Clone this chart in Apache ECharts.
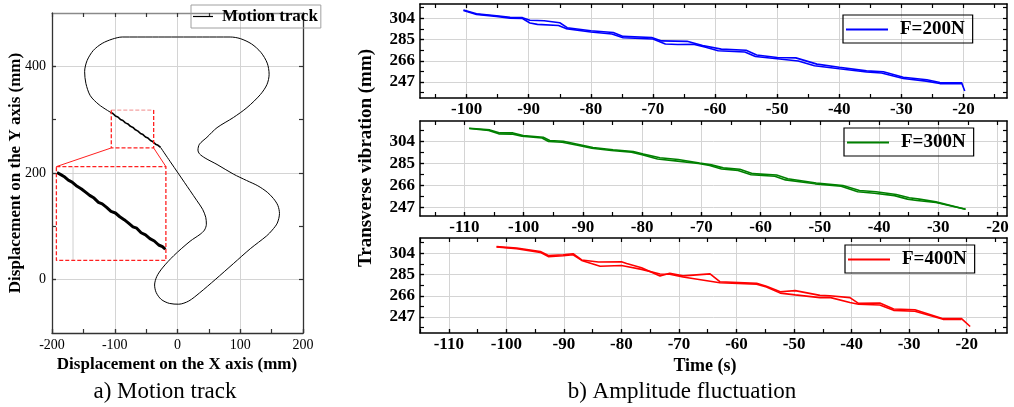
<!DOCTYPE html>
<html><head><meta charset="utf-8">
<script src="https://cdn.jsdelivr.net/npm/echarts@6/dist/echarts.min.js"></script>
<style>html,body{margin:0;padding:0;background:#fff}#c{width:1014px;height:407px}</style>
</head><body><div id="c"></div>
<script>
// ================= DATA =================
// (a) motion track, mm
const trackName = 'Motion track';
const trackMain = [[-27,248],[-12,222],[2,198],[20,167],[31,148],[40,132],[45,117],[46,104],[43,93],[36,85],[20,72],[-6,45],[-24,22],[-33,6],[-36.5,-10],[-34,-24],[-26,-37],[-13,-44.5],[2,-46],[18,-40],[35,-25],[60,0],[89,30],[116,58],[142,82],[151,93],[159,106],[162.5,124],[160,139],[153,152],[143,164],[128,176],[110,186],[89,198],[63,216],[44,228],[35,236],[32.6,243],[35,254],[47,267],[63,285],[89,304],[110.7,322.6],[132,347],[142.6,366],[146,385],[143,406],[133,426],[118,442],[100,452],[84,455],[40,455],[0,455],[-40,455],[-88,455],[-104,451],[-120,443],[-134,430],[-144,411],[-148,390],[-146,368],[-139,345],[-125,328],[-107,314]];
const trackJag = [[-107,314],[-103,311.5],[-99,307],[-95,305],[-91,300.5],[-87,298.5],[-83,294],[-79,292],[-75,287.5],[-71,285.5],[-67,281],[-63,278.5],[-59,274],[-55,272],[-51,267.5],[-47,265.5],[-43,261],[-39,258.5],[-35,254],[-31,252],[-27,248]];
const insetTrack = [[-192,201],[-186,197],[-181,193.5],[-174,186.5],[-168,183],[-160,175],[-153,170],[-147,164.5],[-140,158],[-133,153],[-126,145],[-120,142],[-113,135.5],[-106,128],[-99,125],[-92,118],[-85,112.5],[-78,106],[-71,99],[-65,96.5],[-58,88],[-51,84],[-44,77],[-37,72.5],[-30,65],[-24,62],[-19.4,57]];
const sourceBoxTop = [[-105.5,318],[-38,318]];
const sourceBoxRest = [[-38,318],[-38,247],[-105.5,247],[-105.5,318]];
const insetBox = [[-193,212],[-18.5,212],[-18.5,36],[-193,36],[-193,212]];
const connectorL = [[-105.5,247],[-193,212]];
const connectorR = [[-38,247],[-18.5,212]];
const insetGrid = [[-166.5,36],[-166.5,212]];
const trackXLabels = [-200,-100,0,100,200];
const trackXTicks = [-200,-150,-100,-50,0,50,100,150,200];
const trackYLabels = [0,200,400];
const trackYTicks = [0,100,200,300,400];

// (b) amplitude fluctuation: two passes per load
const loadNames = ['F=200N','F=300N','F=400N'];
const blueA = [[-100.5,311.4],[-98.4,308],[-95.2,306.3],[-93,304.8],[-91,304.6],[-89.8,302.2],[-87.5,301.8],[-85,300],[-83.8,295.6],[-80,292.8],[-76.4,291.3],[-74.8,287.8],[-70.2,286.8],[-68.6,283.8],[-64.5,283.4],[-62,279.6],[-59,276.4],[-55,275.4],[-53.3,271.2],[-50,269],[-47,268.6],[-43.6,263],[-40,260.2],[-35.6,257],[-32.9,256.2],[-29.7,251.2],[-25.9,249],[-23.8,246.6],[-20.3,246.2],[-19.8,239]];
const blueB = [[-20.3,245.6],[-23.8,245.6],[-26,247.8],[-29.7,250.2],[-33.2,255],[-35.6,256],[-40,258.8],[-44,261.5],[-46.6,265.8],[-50,267.8],[-53.5,269.8],[-55.2,273.8],[-59.5,275],[-61.5,278.2],[-63.5,280.8],[-66,280.6],[-68,281],[-70,285.5],[-74.8,286.6],[-76.6,290],[-80,291.8],[-84,294.8],[-85.2,297.6],[-88.6,298.6],[-89.8,299.8],[-91,303.8],[-93,304.2],[-95.2,305.7],[-98.4,307.5],[-100.5,311]];
const greenA = [[-109.2,315.6],[-105.7,314.2],[-104,311.6],[-101.8,311.6],[-100.1,309.4],[-96.7,307.8],[-95.6,305],[-93.3,304.4],[-90.5,301.4],[-88.3,299],[-84.9,297],[-81.5,295.6],[-79.8,293.3],[-77,290.2],[-73.9,288.6],[-70.3,285.6],[-68.3,284],[-66.3,281.4],[-63.5,280.2],[-61.3,276.4],[-57.3,275.2],[-55.4,272],[-50.6,268.3],[-46.1,266.2],[-43.3,261.8],[-40.5,260.8],[-37.1,258.4],[-34.9,255.6],[-33.2,254.4],[-30.4,252],[-25.4,245.6]];
const greenB = [[-25.4,245.6],[-30.4,251.4],[-33.6,253.2],[-35.2,254.4],[-37.4,257.4],[-40.8,259.4],[-43.6,260.8],[-46.4,265.6],[-50.8,267.6],[-55.8,271],[-57.6,274.2],[-61.6,275.4],[-63.8,279.2],[-66.6,280.4],[-68.6,283.4],[-70.5,285.2],[-74,287.2],[-77.4,289],[-80,292.8],[-81.8,295],[-85.2,296.4],[-88.5,298.4],[-90.7,300.8],[-93.5,303.6],[-95.8,304.2],[-96.9,307.2],[-100.3,308.8],[-102,310.6],[-104.2,310.8],[-105.9,313.8],[-109.2,315.4]];
const redA = [[-101.7,309.9],[-98.2,308.6],[-94.1,305.6],[-92.7,302],[-90.1,302.6],[-88.4,303.6],[-86.9,298],[-84,296.2],[-80,296.4],[-79.1,294.8],[-76.5,291],[-73.3,283.6],[-71.6,286.2],[-69.3,283.8],[-64.6,285.6],[-62.9,278.6],[-56.5,277.2],[-54.8,274.6],[-52.4,269.6],[-49.8,270.6],[-45.5,266.4],[-43.8,266],[-40.3,264.4],[-38.8,259.2],[-35.1,259.6],[-32.7,254.2],[-29,253.6],[-24.1,245.6],[-20.9,245.6],[-19.4,238.6]];
const redB = [[-20.9,245],[-24.1,245],[-29,252.2],[-32.7,253],[-35.1,257.8],[-38.8,258.4],[-40.3,260],[-43.8,264.6],[-45.5,264.4],[-49.8,266.8],[-52.4,268.4],[-54.8,273.8],[-56.5,276.4],[-62.9,277.6],[-69.3,282.8],[-71.6,285.2],[-73.3,285.4],[-76.5,289.6],[-79.1,292.2],[-80,293],[-83.7,292.4],[-86.9,297.6],[-88.4,302.6],[-90.1,301.8],[-92.7,301],[-94.1,304.8],[-98.2,308],[-101.7,309.6]];
const ampYLabels = [247,266,285,304];
const ampYTicks = [237.5,247,256.5,266,275.5,285,294.5,304,313.5];
const ampXLabelsTop = [-100,-90,-80,-70,-60,-50,-40,-30,-20];
const ampXLabelsLow = [-110,-100,-90,-80,-70,-60,-50,-40,-30,-20];
const ampXTicks = [-115,-110,-105,-100,-95,-90,-85,-80,-75,-70,-65,-60,-55,-50,-45,-40,-35,-30,-25,-20,-15];

// ================= CHART =================
const SERIF = 'Liberation Serif';
const xAxes = [], yAxes = [];
function addAxes(gi, dim, range, labVals, tickVals, st) {
  const arr = dim === 'x' ? xAxes : yAxes;
  const p1 = dim === 'x' ? 'bottom' : 'left', p2 = dim === 'x' ? 'top' : 'right';
  const idx = arr.length;
  const base = {gridIndex: gi, type: 'value', min: range[0], max: range[1]};
  const tick = (vals) => ({show: true, inside: true, length: st.tickLen, customValues: vals, lineStyle: {color: st.tick, width: 1.2}});
  arr.push(Object.assign({}, base, {
    position: p1,
    axisLine: {show: true, onZero: false, lineStyle: {color: st.frame, width: st.frameW}},
    axisTick: tick(labVals),
    axisLabel: {show: true, customValues: labVals, margin: dim === 'x' ? st.xMargin : st.yMargin,
      fontFamily: SERIF, fontSize: st.labelSize, fontWeight: st.labelWeight, color: '#000'},
    splitLine: {show: true, lineStyle: {color: '#d4d4d4', width: 1}}
  }));
  arr.push(Object.assign({}, base, {
    position: p1, axisLine: {show: false, onZero: false}, axisTick: tick(tickVals),
    axisLabel: {show: false}, splitLine: {show: false}
  }));
  arr.push(Object.assign({}, base, {
    position: p2,
    axisLine: {show: true, onZero: false, lineStyle: {color: dim === 'x' && st.topColor ? st.topColor : st.frame, width: st.frameW}},
    axisTick: tick(tickVals), axisLabel: {show: false}, splitLine: {show: false}
  }));
  return idx;
}

const leftSt = {tickLen: 4, tick: '#333', frame: '#333', topColor: '#8a8a8a', frameW: 1.3, xMargin: 5, yMargin: 6, labelSize: 14, labelWeight: 'normal'};
const rightSt = {tickLen: 4, tick: '#000', frame: '#000', frameW: 1.5, xMargin: 3, yMargin: 5, labelSize: 17, labelWeight: 'bold'};

const grids = [
  {left: 52, top: 13, width: 251, height: 320},
  {left: 420, top: 4, width: 587, height: 94},
  {left: 420, top: 121, width: 587, height: 95},
  {left: 420, top: 238, width: 587, height: 95}
];
const ax = [];
ax.push([addAxes(0, 'x', [-200, 200], trackXLabels, trackXTicks, leftSt), addAxes(0, 'y', [-100, 500], trackYLabels, trackYTicks, leftSt)]);
const xr = [[-107.5, -13], [-117.5, -18.4], [-115, -13]];
const yr = [[232.7, 316.8], [239.8, 321.9], [232.8, 317.6]];
const xl = [ampXLabelsTop, ampXLabelsLow, ampXLabelsLow];
for (let i = 0; i < 3; i++) {
  ax.push([addAxes(i + 1, 'x', xr[i], xl[i], ampXTicks, rightSt), addAxes(i + 1, 'y', yr[i], ampYLabels, ampYTicks, rightSt)]);
}

function line(gi, name, data, color, width, extra) {
  return Object.assign({type: 'line', name: name, xAxisIndex: ax[gi][0], yAxisIndex: ax[gi][1], data: data,
    symbol: 'none', showSymbol: false, lineStyle: {color: color, width: width}, itemStyle: {color: color},
    emphasis: {disabled: true}, silent: true, animation: false}, extra || {});
}

const series = [
  line(0, 'inset grid', insetGrid, '#cfcfcf', 1),
  line(0, trackName, trackMain, '#000', 1, {smooth: 0.3}),
  line(0, trackName, trackJag, '#000', 1.6),
  line(0, 'box top', sourceBoxTop, '#f3a3a3', 1.3, {lineStyle: {color: '#f3a3a3', width: 1.3, type: [4, 2]}}),
  line(0, 'box', sourceBoxRest, '#ff2020', 1.3, {lineStyle: {color: '#ff2020', width: 1.3, type: [4, 2]}}),
  line(0, 'conn', connectorL, '#ff2020', 1),
  line(0, 'conn', connectorR, '#ff2020', 1),
  line(0, 'inset', insetBox, '#ff2020', 1.3, {lineStyle: {color: '#ff2020', width: 1.3, type: [4, 2]}}),
  line(0, 'inset track', insetTrack, '#000', 3),
  line(1, loadNames[0], blueA, '#0000ff', 1.6),
  line(1, loadNames[0], blueB, '#0000ff', 1.6),
  line(2, loadNames[1], greenA, '#008000', 1.6),
  line(2, loadNames[1], greenB, '#008000', 1.6),
  line(3, loadNames[2], redA, '#ff0000', 1.6),
  line(3, loadNames[2], redB, '#ff0000', 1.6)
];

const legendText = {fontFamily: SERIF, fontWeight: 'bold', color: '#000'};
const legends = [
  {data: [trackName], left: 191, top: 5, icon: 'rect', itemWidth: 20, itemHeight: 1.2, padding: [3, 3, 3, 2], borderColor: '#a0a0a0', borderWidth: 1,
   textStyle: Object.assign({fontSize: 17, padding: [0, 0, 0, 4]}, legendText), selectedMode: false},
  {data: [loadNames[0]], left: 843, top: 15, icon: 'rect', itemWidth: 42, itemHeight: 2, padding: [5, 8, 4, 3], borderColor: '#000', borderWidth: 1.2,
   textStyle: Object.assign({fontSize: 19, padding: [0, 0, 0, 7]}, legendText), selectedMode: false},
  {data: [loadNames[1]], left: 844, top: 128, icon: 'rect', itemWidth: 42, itemHeight: 2, padding: [5, 8, 4, 3], borderColor: '#000', borderWidth: 1.2,
   textStyle: Object.assign({fontSize: 19, padding: [0, 0, 0, 7]}, legendText), selectedMode: false},
  {data: [loadNames[2]], left: 845, top: 245, icon: 'rect', itemWidth: 42, itemHeight: 2, padding: [5, 8, 4, 3], borderColor: '#000', borderWidth: 1.2,
   textStyle: Object.assign({fontSize: 19, padding: [0, 0, 0, 7]}, legendText), selectedMode: false}
];

function txt(x, y, text, size, weight, rot) {
  return {type: 'text', x: x, y: y, rotation: rot || 0, silent: true,
    style: {text: text, font: weight + ' ' + size + 'px "' + SERIF + '"', fill: '#000', textAlign: 'center', textVerticalAlign: 'middle'}};
}
const graphic = [
  txt(16, 173, 'Displacement on the Y axis (mm)', 17, 'bold', Math.PI / 2),
  txt(177, 365, 'Displacement on the X axis (mm)', 17, 'bold'),
  txt(165, 392, 'a) Motion track', 23, 'normal'),
  txt(366, 158, 'Transverse vibration (mm)', 19, 'bold', Math.PI / 2),
  txt(705, 366, 'Time (s)', 18, 'bold'),
  txt(682, 392, 'b) Amplitude fluctuation', 23, 'normal')
];

const chart = echarts.init(document.getElementById('c'), null, {renderer: 'canvas'});
chart.setOption({
  animation: false,
  backgroundColor: '#fff',
  grid: grids,
  xAxis: xAxes,
  yAxis: yAxes,
  legend: legends,
  series: series,
  graphic: graphic
});
</script>
</body></html>
